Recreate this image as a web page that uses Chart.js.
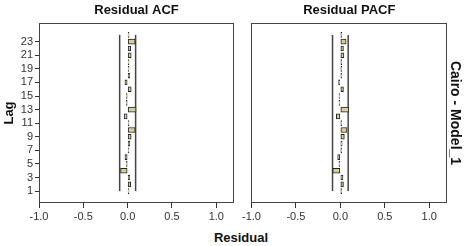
<!DOCTYPE html>
<html lang="en">
<head>
<meta charset="UTF-8" />
<title>Residual ACF / PACF – Cairo</title>
<script src="https://cdn.jsdelivr.net/npm/chart.js@4.4.1/dist/chart.umd.min.js"></script>
<style>
  body{margin:0;background:#fff;font-family:"Liberation Sans",Arial,sans-serif;}
  #wrap{position:relative;width:471px;height:246px;overflow:hidden;}
  canvas{position:absolute;top:0;}
  #acf{left:0}
  #pacf{left:240px}
  #xTitle{position:absolute;left:0;width:482px;top:230px;line-height:15px;text-align:center;
          font-weight:bold;font-size:13px;color:#111;}
  /* 90° clockwise, centred on x=456, y=113 */
  #rowTitle{position:absolute;left:376px;top:103px;width:160px;height:20px;line-height:20px;
            text-align:center;transform:rotate(90deg);transform-origin:50% 50%;
            font-weight:bold;font-size:14px;color:#111;white-space:nowrap;}
</style>
</head>
<body>
<div id="wrap">
  <canvas id="acf" width="240" height="225"></canvas>
  <canvas id="pacf" width="231" height="225"></canvas>
  <div id="xTitle">Residual</div>
  <div id="rowTitle">Cairo - Model_1</div>
</div>

<script>
// lags 1..24
const lags = [1,2,3,4,5,6,7,8,9,10,11,12,13,14,15,16,17,18,19,20,21,22,23,24];
const acf  = [0.015,0.035,0.025,-0.08,-0.015,-0.03,0.015,0.025,0.04,0.085,0.015,-0.04,
              0.095,-0.015,-0.015,0.04,-0.03,0.025,0.015,0.015,0.04,0.035,0.085,0.015];
const pacf = [0.015,0.035,0.03,-0.085,-0.015,-0.03,0.015,0.02,0.045,0.075,0.015,-0.045,
              0.095,-0.015,-0.015,0.035,-0.02,0.015,0.015,0.015,0.04,0.035,0.065,0.015];

// confidence limits, drawn from lag 1 to lag 24
const clLags  = [1, 24];
const acfUpper  = [0.09, 0.09],   acfLower  = [-0.09, -0.09];
const pacfUpper = [0.088, 0.088], pacfLower = [-0.088, -0.088];

const lagTicks = [1,3,5,7,9,11,13,15,17,19,21,23];
const xTicks   = [-1.0,-0.5,0.0,0.5,1.0];

const FONT = '"Liberation Sans", Arial, sans-serif';
const INK = '#333';

const boxPlugin = {
  id:'box',
  afterDraw(c){
    const {ctx, chartArea:a} = c;
    ctx.save();
    ctx.strokeStyle = '#444'; ctx.lineWidth = 1;
    ctx.strokeRect(Math.round(a.left)+0.5, Math.round(a.top)+0.5,
                   Math.round(a.right-a.left)-1, Math.round(a.bottom-a.top)-1);
    ctx.restore();
  }
};

function clLine(xs){
  return {
    type:'line', order:2,
    data: clLags.map((l,i)=>({x:xs[i], y:l})),
    borderColor:'#444', borderWidth:1.5, pointRadius:0, fill:false
  };
}

function panel(id, title, values, upper, lower, isLeft){
  const yScale = isLeft ? {
      type:'linear', position:'left', min:-0.75, max:25.75, offset:false,
      afterBuildTicks: s => { s.ticks = lagTicks.map(v=>({value:v})); },
      afterFit: s => { s.width = 39; },
      ticks:{font:{family:FONT,size:11}, color:INK, padding:2},
      grid:{drawOnChartArea:false, offset:false, tickLength:4, color:INK},
      border:{display:false},
      title:{display:true, text:'Lag', color:'#111',
             font:{family:FONT,size:13,weight:'bold'}, padding:{top:2,bottom:0}}
    } : {
      type:'linear', position:'right', min:-0.75, max:25.75, offset:false,
      afterFit: s => { s.width = 24; },
      ticks:{display:false},
      grid:{display:false, offset:false},
      border:{display:false}
    };

  return new Chart(document.getElementById(id), {
    type:'bar',
    data:{
      datasets:[
        {
          type:'bar', order:1,
          data: lags.map((l,i)=>({x:values[i], y:l})),
          backgroundColor:'#d6cf98', borderColor:'#222', borderWidth:1,
          borderSkipped:false, barThickness:5, grouped:false
        },
        clLine(upper),
        clLine(lower)
      ]
    },
    options:{
      indexAxis:'y',
      responsive:false, animation:false, devicePixelRatio:1,
      layout:{padding:isLeft ? {left:0,right:6,top:0,bottom:0} : {left:11,right:0,top:0,bottom:0}},
      plugins:{legend:{display:false}, tooltip:{enabled:false}},
      scales:{
        x:{
          type:'linear', position:'bottom', min:-1, max:1.2,
          afterBuildTicks: s => { s.ticks = xTicks.map(v=>({value:v})); },
          afterFit: s => { s.height = 22; },
          ticks:{font:{family:FONT,size:11}, color:INK, padding:2,
                 callback: v => Number(v).toFixed(1)},
          grid:{drawOnChartArea:false, tickLength:5, color:INK},
          border:{display:false}
        },
        top:{
          type:'linear', axis:'x', position:'top',
          afterFit: s => { s.height = 23; },
          ticks:{display:false},
          grid:{display:false},
          border:{display:false},
          title:{display:true, text:title, color:'#111',
                 font:{family:FONT,size:13,weight:'bold'}, padding:{top:3,bottom:0}}
        },
        y: yScale
      }
    },
    plugins:[boxPlugin]
  });
}

panel('acf',  'Residual ACF',  acf,  acfUpper,  acfLower,  true);
panel('pacf', 'Residual PACF', pacf, pacfUpper, pacfLower, false);
</script>
</body>
</html>
